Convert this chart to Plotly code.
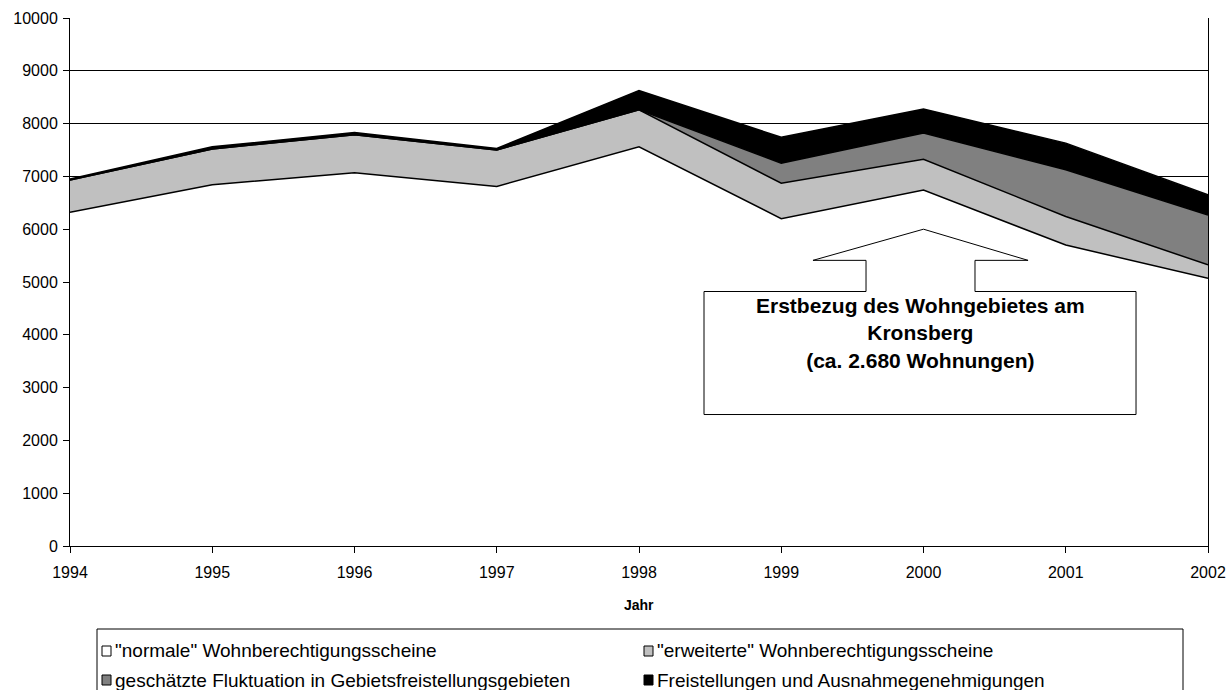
import plotly.graph_objects as go

# Wohnberechtigungen pro Jahr, gestapelt
jahre = [1994, 1995, 1996, 1997, 1998, 1999, 2000, 2001, 2002]
normale = [6320, 6840, 7070, 6810, 7560, 6200, 6740, 5700, 5070]
erweiterte = [610, 680, 720, 690, 700, 670, 585, 540, 255]
fluktuation = [0, 0, 0, 0, 0, 380, 495, 885, 945]
freistellungen = [20, 40, 40, 30, 365, 490, 455, 505, 380]

serien_namen = [
    '"normale" Wohnberechtigungsscheine',
    '"erweiterte" Wohnberechtigungsscheine',
    'geschätzte Fluktuation in Gebietsfreistellungsgebieten',
    'Freistellungen und Ausnahmegenehmigungen',
]
serien_werte = [normale, erweiterte, fluktuation, freistellungen]
serien_farben = ["#FFFFFF", "#C0C0C0", "#808080", "#000000"]

y_ticks = list(range(0, 10001, 1000))

W, H = 1229, 690
L, R, T, B = 70, 21, 18, 144
PW, PH = W - L - R, H - T - B
FONT = "Arial, Liberation Sans, sans-serif"


def px_x(px):
    return (px - L) / PW


def px_y(py):
    return (H - B - py) / PH


fig = go.Figure()
for name, vals, col in zip(serien_namen, serien_werte, serien_farben):
    fig.add_trace(go.Scatter(
        x=jahre, y=vals, name=name, mode="lines",
        stackgroup="one", fillcolor=col,
        line=dict(color="#000000", width=1.5),
        showlegend=False,
    ))

# Hinweis-Pfeil mit Textfeld (Datenkoordinaten)
box_l, box_r, box_b, box_t = 1998.457, 2001.494, 2490, 4820
stem_l, stem_r = 1999.596, 2000.362
sh_l, sh_r, sh_y = 1999.223, 2000.735, 5410
tip_x, tip_y = 2000.0, 6000
path = (f"M {box_l},{box_b} L {box_l},{box_t} L {stem_l},{box_t} L {stem_l},{sh_y} "
        f"L {sh_l},{sh_y} L {tip_x},{tip_y} L {sh_r},{sh_y} L {stem_r},{sh_y} "
        f"L {stem_r},{box_t} L {box_r},{box_t} L {box_r},{box_b} Z")
shapes = [dict(type="path", xref="x", yref="y", path=path,
               fillcolor="#FFFFFF", line=dict(color="#000000", width=1))]

annotations = [
    dict(x=(box_l + box_r) / 2, y=4810, xref="x", yref="y",
         text="<b>Erstbezug des Wohngebietes am<br>Kronsberg<br>(ca. 2.680 Wohnungen)</b>",
         showarrow=False, xanchor="center", yanchor="top",
         font=dict(family=FONT, size=21, color="#000000")),
    dict(x=0.5, y=px_y(605), xref="paper", yref="paper", text="<b>Jahr</b>",
         showarrow=False, xanchor="center", yanchor="middle",
         font=dict(family=FONT, size=14, color="#000000")),
]

# Legende als Kasten unterhalb der Achse
shapes.append(dict(type="rect", xref="paper", yref="paper",
                   x0=px_x(97), x1=px_x(1183), y0=px_y(629), y1=px_y(705),
                   fillcolor="#FFFFFF", line=dict(color="#000000", width=1)))
spalten = [102, 644]
zeilen = [651, 680]
for i, (name, col) in enumerate(zip(serien_namen, serien_farben)):
    sx = spalten[i % 2]
    sy = zeilen[i // 2]
    shapes.append(dict(type="rect", xref="paper", yref="paper",
                       x0=px_x(sx), x1=px_x(sx + 9), y0=px_y(sy + 5), y1=px_y(sy - 5),
                       fillcolor=col, line=dict(color="#000000", width=1)))
    annotations.append(dict(x=px_x(sx + 11), y=px_y(sy), xref="paper", yref="paper",
                            text=name, showarrow=False, xanchor="left", yanchor="middle",
                            font=dict(family=FONT, size=19, color="#000000")))

fig.update_layout(
    width=W, height=H, autosize=False,
    margin=dict(l=L, r=R, t=T, b=B, autoexpand=False),
    paper_bgcolor="#FFFFFF", plot_bgcolor="#FFFFFF",
    font=dict(family=FONT, size=16, color="#000000"),
    shapes=shapes, annotations=annotations,
    showlegend=False,
)
fig.update_xaxes(
    range=[1994, 2002], tickvals=jahre, ticktext=[str(j) for j in jahre],
    showgrid=False, zeroline=False, showline=True, linecolor="#000000", linewidth=1,
    ticks="outside", ticklen=6, tickcolor="#000000", ticklabelstandoff=6,
    ticklabeloverflow="allow", automargin=False, mirror=False,
)
fig.update_yaxes(
    range=[0, 10000], tickvals=y_ticks, ticktext=[str(v) for v in y_ticks],
    showgrid=True, gridcolor="#000000", gridwidth=1, zeroline=False,
    showline=True, linecolor="#000000", linewidth=1,
    ticks="outside", ticklen=6, tickcolor="#000000", ticklabelstandoff=2,
    automargin=False, mirror=True,
)

fig.write_html("out.html")
